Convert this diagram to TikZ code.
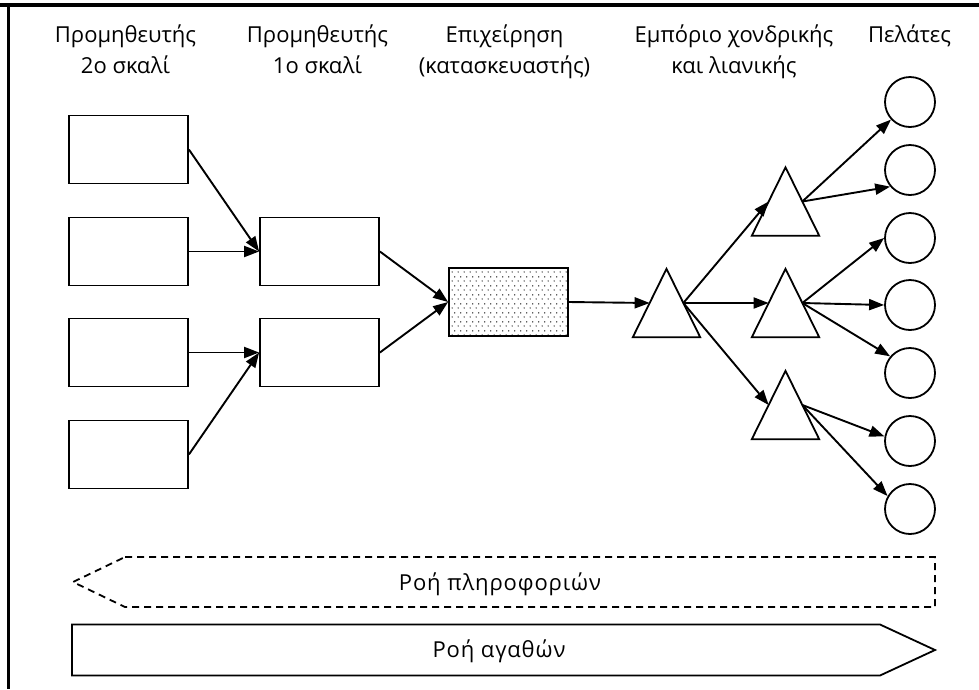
\documentclass[tikz,border=0pt]{standalone}
\usepackage{fontspec}
\setmainfont{Open Sans}
\newfontfamily\spacedfont[LetterSpace=4]{Open Sans}
\usetikzlibrary{arrows.meta,patterns.meta,calc}
\tikzdeclarepattern{name=sparsedots,type=uncolored,
  bounding box={(0pt,0pt) and (5.5pt,8.6pt)},
  tile size={(5.5pt,8.6pt)},
  code={\fill (1.3pt,2.1pt) circle (0.75pt); \fill (4.05pt,6.4pt) circle (0.75pt);}}
\begin{document}
\begin{tikzpicture}[x=1pt,y=-1pt,
  box/.style={draw,line width=1.8pt,minimum width=119pt,minimum height=68pt,inner sep=0pt},
  cust/.style={draw,line width=1.8pt,circle,minimum size=50pt,inner sep=0pt},
  tribox/.style={minimum width=67pt,minimum height=68pt,inner sep=0pt},
  tri/.style={line width=1.8pt,line join=miter},
  conn/.style={line width=1.9pt,-{Triangle[length=15pt,width=11pt]}},
  head/.style={font=\fontsize{22}{31}\selectfont,align=center,anchor=base,inner sep=0pt},
  flowtxt/.style={font=\spacedfont\fontsize{22}{28}\selectfont,inner sep=0pt,anchor=base}
]
\useasboundingbox (0,0) rectangle (979,689);
% frame
\draw[line width=4pt] (0,5) -- (979,5);
\draw[line width=3pt] (8.5,3) -- (8.5,689);
% headers
\node[head] (h1) at (125.5,73) {Προμηθευτής\\2ο σκαλί};
\node[head] (h2) at (317.5,73) {Προμηθευτής\\1ο σκαλί};
\node[head] (h3) at (504.5,73) {Επιχείρηση\\(κατασκευαστής)};
\node[head] (h4) at (734,73) {Εμπόριο χονδρικής\\και λιανικής};
\node[head] (h5) at (909.5,42) {Πελάτες};
% supplier tier 2
\node[box] (a1) at (128.5,149.5) {};
\node[box] (a2) at (128.5,251.5) {};
\node[box] (a3) at (128.5,352.5) {};
\node[box] (a4) at (128.5,454.5) {};
% supplier tier 1
\node[box] (b1) at (319.5,251.5) {};
\node[box] (b2) at (319.5,352.5) {};
% company
\node[box,pattern=sparsedots,pattern color=black!85] (m) at (508.5,302) {};
% triangles
\node[tribox] (t1) at (666.5,303) {};
\node[tribox] (t2) at (785.5,201.5) {};
\node[tribox] (t3) at (785.5,303) {};
\node[tribox] (t4) at (785.5,405) {};
\foreach \t in {t1,t2,t3,t4}{
  \draw[tri] (\t.south west) -- (\t.north) -- (\t.south east) -- cycle;
  \path (\t.south west) -- (\t.north) coordinate[pos=0.5] (\t l);
  \path (\t.south east) -- (\t.north) coordinate[pos=0.5] (\t r);
}
% customers
\foreach \i/\y in {1/102,2/170,3/238,4/305,5/373,6/441,7/509}{
  \node[cust] (c\i) at (910,\y) {};
}
% connectors
\draw[conn] (a1.east) -- (b1.west);
\draw[conn] (a2.east) -- (b1.west);
\draw[conn] (a3.east) -- (b2.west);
\draw[conn] (a4.east) -- (b2.west);
\draw[conn] (b1.east) -- (m.west);
\draw[conn] (b2.east) -- (m.west);
\draw[conn] (m.east) -- (t1l);
\draw[conn] (t1r) -- (t2l);
\draw[conn] (t1r) -- (t3l);
\draw[conn] (t1r) -- (t4l);
\draw[conn] (t2r) -- (c1);
\draw[conn] (t2r) -- (c2.220);
\draw[conn] (t3r) -- (c3.west);
\draw[conn] (t3r) -- (c4.west);
\draw[conn] (t3r) -- (c5.140);
\draw[conn] (t4r) -- (c6.170);
\draw[conn] (t4r) -- (c7.150);
% flows
\draw[line width=1.8pt,dash pattern=on 7pt off 5pt] (125,557) -- (935,557) -- (935,607) -- (125,607) -- (73,582) -- cycle;
\node[flowtxt] (fi) at (500,590) {Ροή πληροφοριών};
\draw[line width=1.8pt,line join=miter] (72,624.5) -- (880,624.5) -- (935,650) -- (880,675.5) -- (72,675.5) -- cycle;
\node[flowtxt] (fg) at (499,657) {Ροή αγαθών};
\end{tikzpicture}
\end{document}
